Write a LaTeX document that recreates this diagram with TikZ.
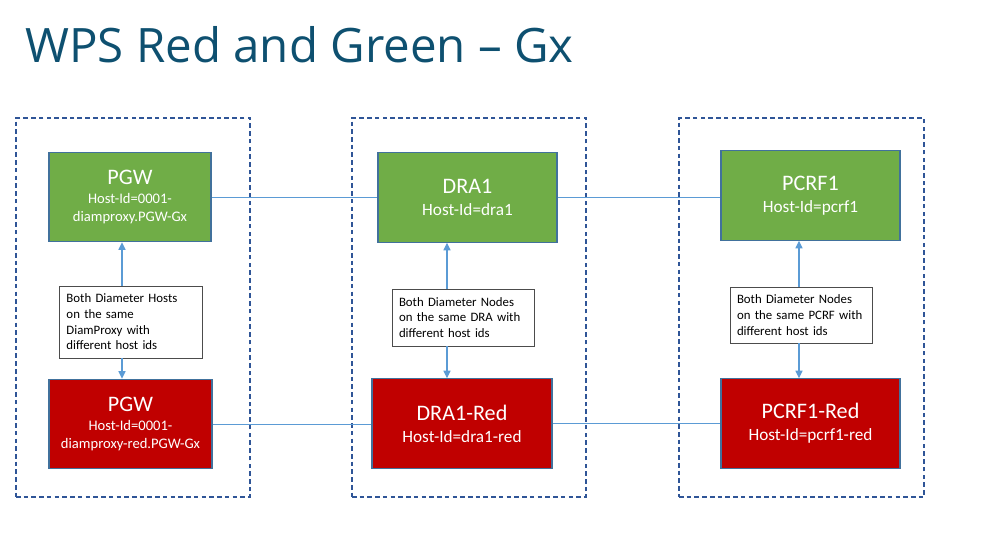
\documentclass[tikz,border=0pt]{standalone}
\usepackage{fontspec}
\setmainfont{Carlito}
\newfontfamily\titlefont{Open Sans}
\usepackage{xcolor}
\usepackage{tikz}
\usetikzlibrary{arrows.meta, positioning}
\definecolor{titlecolor}{RGB}{14,80,112}
\definecolor{hostgreen}{RGB}{112,173,71}
\definecolor{hostred}{RGB}{192,0,0}
\definecolor{hostborder}{RGB}{65,113,156}
\definecolor{groupcolor}{RGB}{47,85,151}
\definecolor{linkcolor}{RGB}{91,155,213}

\begin{document}
\begin{tikzpicture}[
    group/.style={draw=groupcolor, line width=0.7pt, dash pattern=on 2.6pt off 1.8pt, minimum width=#1, minimum height=7.58cm},
    host/.style={draw=hostborder, line width=0.6pt, text=white, align=center, minimum height=1.79cm, font=\fontsize{9.8}{12.4}\selectfont},
    greenhost/.style={host, fill=hostgreen},
    redhost/.style={host, fill=hostred},
    pgwhost/.style={font=\fontsize{8.3}{9.8}\selectfont},
    note/.style={draw=black!70, line width=0.5pt, fill=white, align=left, text width=2.56cm, inner sep=0pt, font=\fontsize{7.3}{8.9}\selectfont},
    link/.style={linkcolor, line width=0.5pt},
    arrow/.style={-{Triangle[length=1.5mm, width=1.4mm]}, linkcolor, line width=0.6pt}
]
    \useasboundingbox (0,0) rectangle (19.96,-10.94);

    % Title
    \node[anchor=base west, inner sep=0pt, text=titlecolor, font=\titlefont\fontsize{27}{30}\selectfont] (title) at (0.5,-1.24) {WPS Red and Green – Gx};

    % Groups
    \node[group=4.68cm] (pgwgroup) at (2.66,-6.15) {};
    \node[group=4.68cm] (dragroup) at (9.38,-6.15) {};
    \node[group=4.9cm] (pcrfgroup) at (16.03,-6.15) {};

    % Green hosts
    \node[greenhost, pgwhost, minimum width=3.24cm] (pgwG) at (2.6,-3.94) {{\fontsize{12.6}{13}\selectfont PGW}\\[1pt]Host-Id=0001-\\diamproxy.PGW-Gx};
    \node[greenhost, minimum width=3.58cm] (draG) at (9.35,-3.95) {{\fontsize{12.6}{13}\selectfont DRA1}\\Host-Id=dra1};
    \node[greenhost, minimum width=3.58cm] (pcrfG) at (16.21,-3.91) {{\fontsize{12.6}{13}\selectfont PCRF1}\\Host-Id=pcrf1};

    % Red hosts
    \node[redhost, pgwhost, minimum width=3.26cm] (pgwR) at (2.61,-8.48) {{\fontsize{12.6}{13}\selectfont PGW}\\[1pt]Host-Id=0001-\\diamproxy-red.PGW-Gx};
    \node[redhost, minimum width=3.6cm] (draR) at (9.24,-8.47) {{\fontsize{12.6}{13}\selectfont DRA1-Red}\\Host-Id=dra1-red};
    \node[redhost, minimum width=3.58cm] (pcrfR) at (16.21,-8.47) {{\fontsize{12.6}{13}\selectfont PCRF1-Red}\\Host-Id=pcrf1-red};

    % Notes
    \node[note, minimum width=2.86cm, minimum height=1.44cm] (pgwnote) at (2.61,-6.44) {Both Diameter Hosts\\on the same\\DiamProxy with\\different host ids};
    \node[note, minimum width=2.84cm, minimum height=1.14cm] (dranote) at (9.26,-6.35) {Both Diameter Nodes\\on the same DRA with\\different host ids};
    \node[note, minimum width=2.84cm, minimum height=1.12cm] (pcrfnote) at (16.02,-6.3) {Both Diameter Nodes\\on the same PCRF with\\different host ids};

    % Links
    \draw[link] (pgwG.east) -- (pgwG.east -| draG.west);
    \draw[link] (draG.east) -- (draG.east -| pcrfG.west);
    \draw[link] (pgwR.east) -- (pgwR.east -| draR.west);
    \draw[link] (draR.east) -- (draR.east -| pcrfR.west);

    % Arrows
    \draw[arrow] ([xshift=-0.17cm]pgwnote.north) -- ([xshift=-0.17cm]pgwnote.north |- pgwG.south);
    \draw[arrow] ([xshift=-0.17cm]pgwnote.south) -- ([xshift=-0.17cm]pgwnote.south |- pgwR.north);
    \draw[arrow] ([xshift=-0.32cm]dranote.north) -- ([xshift=-0.32cm]dranote.north |- draG.south);
    \draw[arrow] ([xshift=-0.32cm]dranote.south) -- ([xshift=-0.32cm]dranote.south |- draR.north);
    \draw[arrow] ([xshift=-0.04cm]pcrfnote.north) -- ([xshift=-0.04cm]pcrfnote.north |- pcrfG.south);
    \draw[arrow] ([xshift=-0.04cm]pcrfnote.south) -- ([xshift=-0.04cm]pcrfnote.south |- pcrfR.north);
\end{tikzpicture}
\end{document}
